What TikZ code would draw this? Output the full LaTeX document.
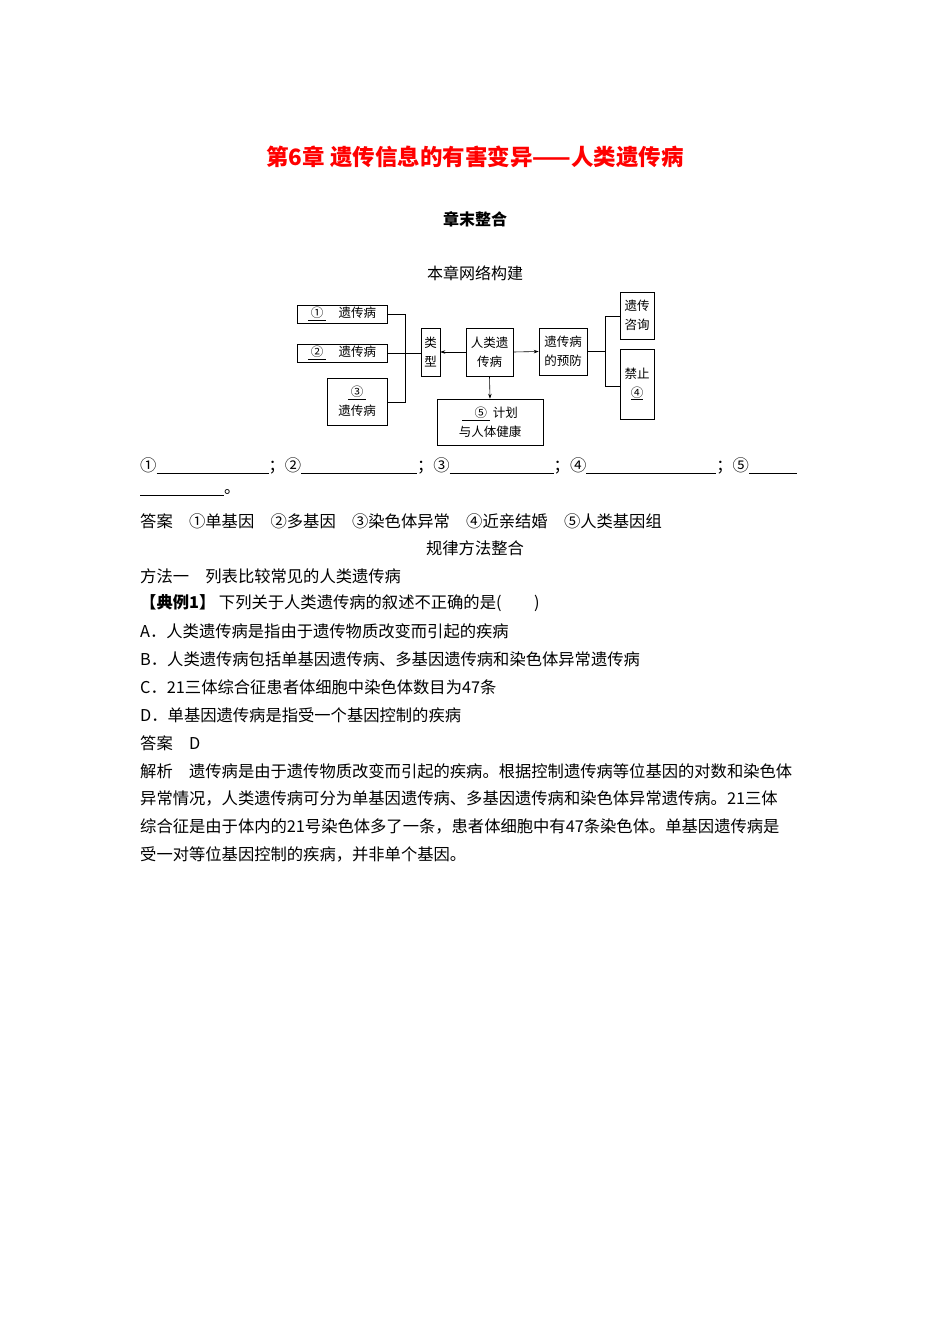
\documentclass[tikz,border=0pt]{standalone}
\usepackage{fontspec}
\setmainfont{Noto Sans CJK SC}
\usetikzlibrary{arrows.meta}
\begin{document}
\begin{tikzpicture}[x=1pt,y=-1pt,
  bx/.style={draw,line width=0.6pt,inner sep=0pt,align=center,font=\fontsize{12.5}{19}\selectfont},
  ln/.style={line width=0.6pt},
  ar/.style={line width=0.6pt,-{Stealth[length=5pt,width=3.5pt]}},
  tx/.style={anchor=west,inner sep=0pt,font=\fontsize{16.3}{18}\selectfont}]
\useasboundingbox[fill=white] (0,0) rectangle (950,1344);
\node[text=red,font=\fontsize{22.5}{24}\selectfont\bfseries] (title) at (475,157) {第6章\ 遗传信息的有害变异——人类遗传病};
\node[font=\fontsize{16}{18}\selectfont\bfseries] (sub) at (475,219) {章末整合};
\node[font=\fontsize{16}{18}\selectfont] (net) at (475,273) {本章网络构建};
% diagram
\node[bx,minimum width=90,minimum height=18] (b1) at (342,314) {\underline{\ ①\ }\quad 遗传病};
\node[bx,minimum width=90,minimum height=18] (b2) at (342,353) {\underline{\ ②\ }\quad 遗传病};
\node[bx,minimum width=60,minimum height=47] (b3) at (357,401.5) {\underline{\ ③\ }\\遗传病};
\node[bx,minimum width=19,minimum height=48] (lx) at (430.5,352) {类\\型};
\node[bx,minimum width=47,minimum height=48] (rl) at (489.5,352) {人类遗\\传病};
\node[bx,minimum width=48,minimum height=47] (yf) at (563,351.5) {遗传病\\的预防};
\node[bx,minimum width=34,minimum height=47] (zx) at (637,315.5) {遗传\\咨询};
\node[bx,minimum width=34,minimum height=70] (jz) at (637,384) {禁止\\\underline{④}};
\node[bx,minimum width=106,minimum height=46] (jh) at (490,422) {\underline{\quad ⑤\ }\ 计划\\与人体健康};
\coordinate (v1) at (405,314);
\coordinate (v3) at (405,402);
\draw[ln] (b1.east) -- (v1) -- (v3) -- (b3.east |- v3);
\draw[ln] (b2.east) -- (lx.west |- b2.east);
\draw[ar] (rl.west) -- (lx.east);
\draw[ar] (rl.east) -- (yf.west);
\draw[ar] (rl.south) -- (jh.north);
\coordinate (w1) at (605,316);
\coordinate (w2) at (605,386);
\draw[ln] (yf.east) -- (605,351.5);
\draw[ln] (zx.west |- w1) -- (w1) -- (w2) -- (jz.west |- w2);
% text
\node[tx] (l1) at (140,466) {①\underline{\hspace{112pt}}；②\underline{\hspace{116pt}}；③\underline{\hspace{104pt}}；④\underline{\hspace{130pt}}；⑤\underline{\hspace{48pt}}};
\node[tx] (l2) at (140,493) {\underline{\hspace{84pt}}。};
\node[tx] (l3) at (140,521) {答案\quad ①单基因\quad ②多基因\quad ③染色体异常\quad ④近亲结婚\quad ⑤人类基因组};
\node[font=\fontsize{16.3}{18}\selectfont] (l4) at (475,548) {规律方法整合};
\node[tx] (l5) at (140,576) {方法一\quad 列表比较常见的人类遗传病};
\node[tx] (l6) at (140,603) {{\bfseries【典例1】}\ 下列关于人类遗传病的叙述不正确的是(\qquad )};
\node[tx] (l7) at (140,631) {A．人类遗传病是指由于遗传物质改变而引起的疾病};
\node[tx] (l8) at (140,659) {B．人类遗传病包括单基因遗传病、多基因遗传病和染色体异常遗传病};
\node[tx] (l9) at (140,687) {C．21三体综合征患者体细胞中染色体数目为47条};
\node[tx] (l10) at (140,715) {D．单基因遗传病是指受一个基因控制的疾病};
\node[tx] (l11) at (140,743) {答案\quad D};
\node[tx] (l12) at (140,771) {解析\quad 遗传病是由于遗传物质改变而引起的疾病。根据控制遗传病等位基因的对数和染色体};
\node[tx] (l13) at (140,798) {异常情况，人类遗传病可分为单基因遗传病、多基因遗传病和染色体异常遗传病。21三体};
\node[tx] (l14) at (140,826) {综合征是由于体内的21号染色体多了一条，患者体细胞中有47条染色体。单基因遗传病是};
\node[tx] (l15) at (140,854) {受一对等位基因控制的疾病，并非单个基因。};
\end{tikzpicture}
\end{document}
